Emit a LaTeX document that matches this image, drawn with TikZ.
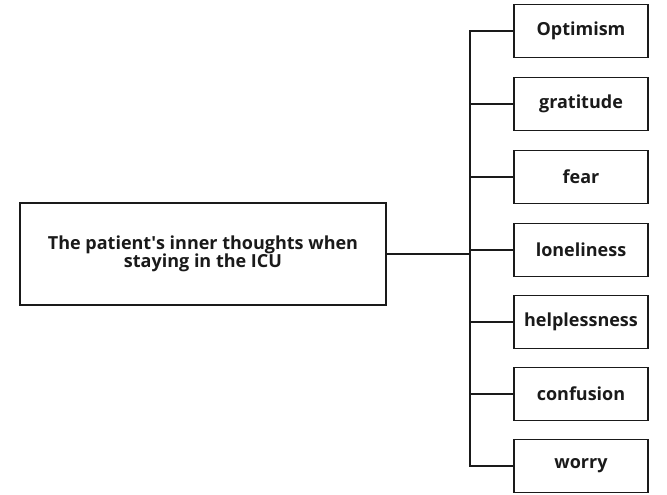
\documentclass[tikz,border=0pt]{standalone}
\usepackage{fontspec}
\setmainfont{Open Sans}
\usetikzlibrary{positioning}
\definecolor{inkdark}{HTML}{1A1A1A}
\tikzset{
	mainbox/.style = {draw=inkdark, line width=1.5pt, inner sep=0pt, align=center,
		minimum width=366pt, minimum height=102pt, text=inkdark,
		font=\bfseries\fontsize{18}{18.5}\selectfont},% ICU box
	leafbox/.style = {draw=inkdark, line width=1.5pt, inner sep=0pt, align=center,
		minimum width=134pt, minimum height=53pt, text=inkdark,
		font=\bfseries\fontsize{18}{19}\selectfont},% one feeling
	branch/.style = {draw=inkdark, line width=1.5pt}
}
\begin{document}
\begin{tikzpicture}[x=1pt,y=-1pt]
	\useasboundingbox (0,0) rectangle (667,495);
	\node[mainbox] (icu) at (203,254) {The patient\textquotesingle s inner thoughts when\\staying in the ICU};
	\coordinate (fork) at (470,254);
	\foreach \name/\txt/\ypos in {opt/Optimism/31, grat/gratitude/104, fear/fear/177,
		lone/loneliness/250, help/helplessness/322, conf/confusion/394, worr/worry/466}{
		\node[leafbox] (\name) at (581,\ypos) {\txt};
		\draw[branch] (\name.west) -- (fork |- \name.west);
	}
	\draw[branch] (icu.east) -- (fork);
	\draw[branch, line cap=rect] (fork |- opt.west) -- (fork |- worr.west);
\end{tikzpicture}
\end{document}
